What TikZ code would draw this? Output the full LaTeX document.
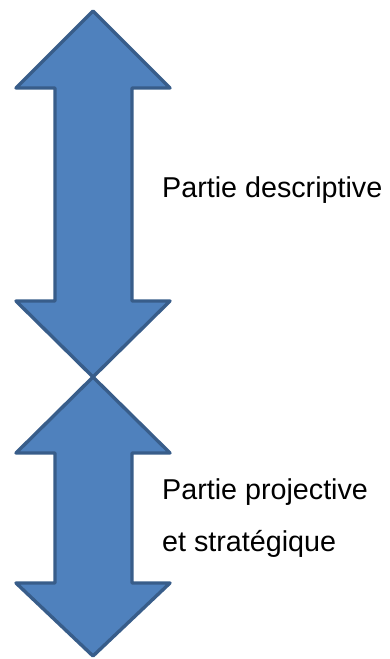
\documentclass[tikz,border=0pt]{standalone}
\usepackage{fontspec}
\setmainfont{Liberation Sans}
\definecolor{arrowfill}{HTML}{4F81BD}
\definecolor{arrowline}{HTML}{385D8A}
\begin{document}
\begin{tikzpicture}[x=1pt,y=-1pt,
  bigarrow/.style={fill=arrowfill,draw=arrowline,line width=3.4pt,line join=round},
  label/.style={anchor=base west,inner sep=0pt,font=\fontsize{28.7}{34}\selectfont}]
\useasboundingbox (0,0) rectangle (389,659);
\draw[bigarrow] (93,11) -- (170,88) -- (132,88) -- (132,301) -- (170,301) -- (93,377)
  -- (16,301) -- (55,301) -- (55,88) -- (16,88) -- cycle;
\draw[bigarrow] (93,377) -- (170,453) -- (132,453) -- (132,583) -- (170,583) -- (93,656)
  -- (16,583) -- (55,583) -- (55,453) -- (16,453) -- cycle;
\node[label] (desc) at (162,197) {Partie descriptive};
\node[label] (proj) at (162,499) {Partie projective};
\node[label] (strat) at (162,551) {et stratégique};
\end{tikzpicture}
\end{document}
